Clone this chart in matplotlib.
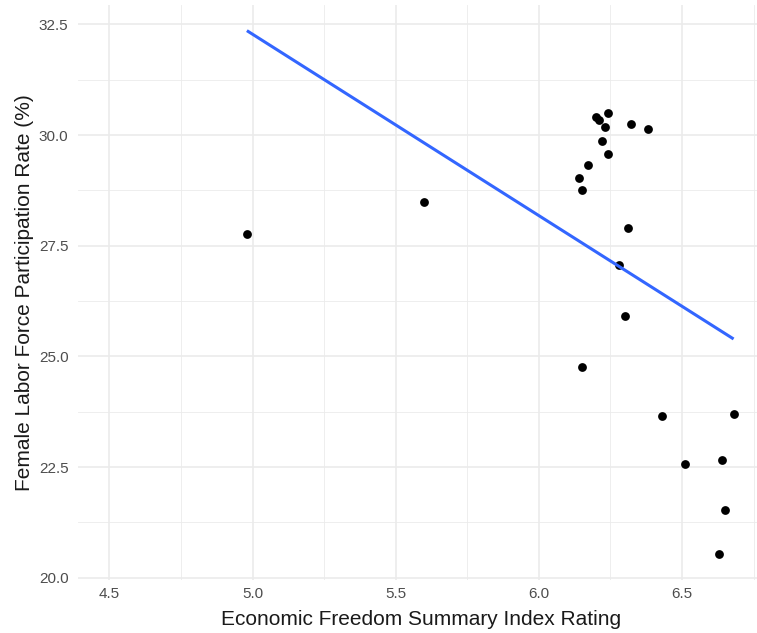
import numpy as np
import matplotlib
matplotlib.use("Agg")
import matplotlib.pyplot as plt
from matplotlib.ticker import MultipleLocator, FormatStrFormatter

plt.rcParams['font.family'] = ['Liberation Sans', 'DejaVu Sans']

# Economic freedom index vs. female labor force participation
efw_index = [4.98, 5.60, 6.24, 6.20, 6.21, 6.23, 6.32, 6.38, 6.22, 6.24,
             6.17, 6.14, 6.15, 6.31, 6.28, 6.30, 6.15, 6.43, 6.68, 6.51,
             6.64, 6.65, 6.63]
flfp_rate = [27.77, 28.49, 30.51, 30.42, 30.34, 30.19, 30.25, 30.13, 29.86, 29.58,
             29.32, 29.04, 28.76, 27.91, 27.06, 25.91, 24.77, 23.65, 23.71, 22.58,
             22.66, 21.54, 20.53]

x = np.array(efw_index)
y = np.array(flfp_rate)

# straight-line least squares fit over the data range
slope, intercept = np.polyfit(x, y, 1)
fit_x = np.array([x.min(), x.max()])
fit_y = intercept + slope * fit_x

fig = plt.figure(figsize=(7.57, 6.33), dpi=100)
ax_w, ax_h = 0.9069, 0.9084
ax = fig.add_axes([0.1034, 0.0837, ax_w, ax_h])

ax.scatter(x, y, s=40, color='black', zorder=3, linewidths=0)
ax.plot(fit_x, fit_y, color='#3366FF', lw=2.2, zorder=4, solid_capstyle='butt')

ax.set_xlim(4.391, 6.789)
ax.set_ylim(19.95, 32.94)
ax.xaxis.set_major_locator(MultipleLocator(0.5))
ax.xaxis.set_minor_locator(MultipleLocator(0.25))
ax.yaxis.set_major_locator(MultipleLocator(2.5))
ax.yaxis.set_minor_locator(MultipleLocator(1.25))
ax.xaxis.set_major_formatter(FormatStrFormatter('%.1f'))
ax.yaxis.set_major_formatter(FormatStrFormatter('%.1f'))

ax.grid(which='major', color='#EBEBEB', lw=1.2)
ax.grid(which='minor', color='#EBEBEB', lw=0.6)
ax.set_axisbelow(True)
for s in ax.spines.values():
    s.set_visible(False)
ax.tick_params(which='both', length=0)
ax.tick_params(axis='both', labelsize=11, labelcolor='#4D4D4D')
ax.tick_params(axis='x', pad=5)
ax.tick_params(axis='y', pad=7)

ax.set_xlabel('Economic Freedom Summary Index Rating', fontsize=15, color='#1A1A1A')
ax.set_ylabel('Female Labor Force Participation Rate (%)', fontsize=15, color='#1A1A1A')
ax.xaxis.set_label_coords((421 - 78.3) / (ax_w * 757), -30 / (ax_h * 633))
ax.yaxis.set_label_coords(-44 / (ax_w * 757), 0.5)

fig.savefig('out.png', dpi=100)
